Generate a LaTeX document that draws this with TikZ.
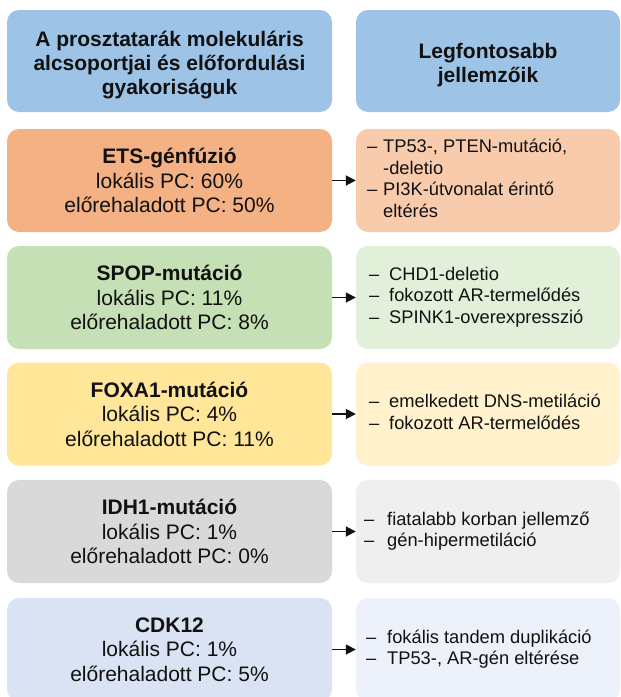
\documentclass[tikz,border=0pt]{standalone}
\usepackage{fontspec}
\setmainfont{Liberation Sans}
\usetikzlibrary{arrows.meta}
\definecolor{hdr}{HTML}{9DC3E6}
\definecolor{etsL}{HTML}{F4B183}
\definecolor{etsR}{HTML}{F8CBAD}
\definecolor{spopL}{HTML}{C5E0B4}
\definecolor{spopR}{HTML}{E2F0D9}
\definecolor{foxL}{HTML}{FFE699}
\definecolor{foxR}{HTML}{FFF2CC}
\definecolor{idhL}{HTML}{D9D9D9}
\definecolor{idhR}{HTML}{EFEFEF}
\definecolor{cdkL}{HTML}{DAE3F3}
\definecolor{cdkR}{HTML}{EDF1F9}
\definecolor{txt}{HTML}{111111}
\tikzset{
  box/.style={rectangle, rounded corners=12pt, inner sep=0pt, draw=none, text=txt},
  lbox/.style={box, minimum width=325pt, minimum height=103pt, align=center,
    font=\fontsize{21}{24.5}\selectfont},
  rbox/.style={box, minimum width=264pt, minimum height=103pt},
  htext/.style={inner sep=0pt, align=center, text=txt, font=\fontsize{21}{24}\selectfont\bfseries},
  rtext/.style={anchor=west, inner sep=0pt, text=txt, font=\fontsize{18.3}{21.5}\selectfont},
  arr/.style={-{Triangle[length=10pt,width=10pt]}, line width=1.8pt, draw=txt},
}
\begin{document}
\begin{tikzpicture}[x=1pt,y=-1pt]
\useasboundingbox (0,0) rectangle (621,697);
% headers
\node[box, fill=hdr, minimum width=325pt, minimum height=102pt] (h1) at (169.5,61) {};
\node[box, fill=hdr, minimum width=264pt, minimum height=102pt] (h2) at (488,61) {};
\node[htext] (h1t) at (169.5,65) {A prosztatarák molekuláris\\alcsoportjai és előfordulási\\gyakoriságuk};
\node[htext] (h2t) at (488,65) {Legfontosabb\\jellemzőik};
% left boxes
\node[lbox, fill=etsL] (ets) at (169.5,180.5) {\textbf{ETS-génfúzió}\\lokális PC: 60\%\\előrehaladott PC: 50\%};
\node[lbox, fill=spopL] (spop) at (169.5,297.5) {\textbf{SPOP-mutáció}\\lokális PC: 11\%\\előrehaladott PC: 8\%};
\node[lbox, fill=foxL] (fox) at (169.5,414) {\textbf{FOXA1-mutáció}\\lokális PC: 4\%\\előrehaladott PC: 11\%};
\node[lbox, fill=idhL] (idh) at (169.5,531.5) {\textbf{IDH1-mutáció}\\lokális PC: 1\%\\előrehaladott PC: 0\%};
\node[lbox, fill=cdkL] (cdk) at (169.5,649.5) {\textbf{CDK12}\\lokális PC: 1\%\\előrehaladott PC: 5\%};
% right boxes
\node[rbox, fill=etsR] (etsR) at (488,180.5) {};
\node[rbox, fill=spopR] (spopR) at (488,297.5) {};
\node[rbox, fill=foxR] (foxR) at (488,414) {};
\node[rbox, fill=idhR] (idhR) at (488,531.5) {};
\node[rbox, fill=cdkR] (cdkR) at (488,649.5) {};
% right texts
\node[rtext] (etsT) at ([xshift=11pt]etsR.west) {\begin{tabular}{@{}l@{\hspace{6pt}}l@{}}
– & TP53-, PTEN-mutáció,\\
  & -deletio\\
– & PI3K-útvonalat érintő\\
  & eltérés\end{tabular}};
\node[rtext] (spopT) at ([xshift=13pt]spopR.west) {\begin{tabular}{@{}l@{\hspace{10pt}}l@{}}
– & CHD1-deletio\\
– & fokozott AR-termelődés\\
– & SPINK1-overexpresszió\end{tabular}};
\node[rtext] (foxT) at ([xshift=13pt]foxR.west) {\begin{tabular}{@{}l@{\hspace{10pt}}l@{}}
– & emelkedett DNS-metiláció\\
– & fokozott AR-termelődés\end{tabular}};
\node[rtext] (idhT) at ([xshift=8pt]idhR.west) {\begin{tabular}{@{}l@{\hspace{13pt}}l@{}}
– & fiatalabb korban jellemző\\
– & gén-hipermetiláció\end{tabular}};
\node[rtext] (cdkT) at ([xshift=10pt]cdkR.west) {\begin{tabular}{@{}l@{\hspace{11pt}}l@{}}
– & fokális tandem duplikáció\\
– & TP53-, AR-gén eltérése\end{tabular}};
% arrows
\draw[arr] (ets.east) -- (etsR.west);
\draw[arr] (spop.east) -- (spopR.west);
\draw[arr] (fox.east) -- (foxR.west);
\draw[arr] (idh.east) -- (idhR.west);
\draw[arr] (cdk.east) -- (cdkR.west);
\end{tikzpicture}
\end{document}
